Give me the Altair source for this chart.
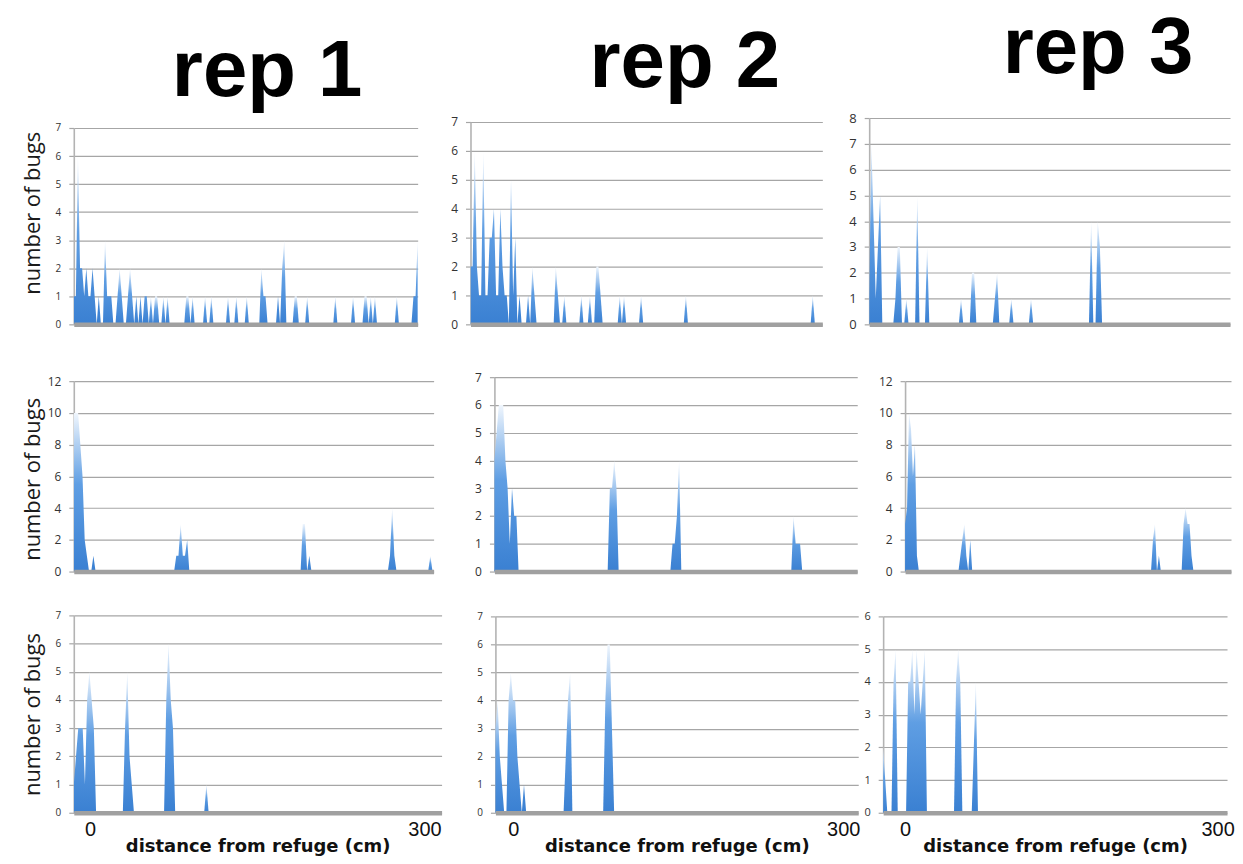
import altair as alt
import pandas as pd

# ---------------- data (distance in cm, number of bugs) ----------------
# each cluster: (first distance, counts at 2 cm steps)
R1C1 = [(-20, [1, 1, 6, 2, 2, 1, 2, 1, 1, 2, 1, 0, 1, 0]), (8, [0, 3, 1, 1, 1, 0]),
        (20, [0, 1, 2, 1, 0]), (30, [0, 1, 2, 1, 0, 1, 0, 1, 0, 1, 1, 0]), (52, [0, 1, 0]),
        (56, [0, 1, 1, 0]), (64, [0, 1, 0, 1, 0]), (86, [0, 1, 1, 0, 1, 0]), (104, [0, 1, 0]),
        (110, [0, 1, 0]), (126, [0, 1, 0]), (134, [0, 1, 0]), (144, [0, 1, 0]),
        (158, [0, 2, 1, 1, 0]), (174, [0, 1, 0, 2, 3, 0]), (190, [0, 1, 1, 0]), (202, [0, 1, 0]),
        (229, [0, 1, 0]), (246, [0, 1, 0]), (257, [0, 1, 1, 0, 1, 0, 1, 0]), (288, [0, 1, 0]),
        (304, [0, 1, 1, 3])]
R1C2 = [(-20, [2, 2, 6, 2, 1, 1, 6, 1, 1, 3, 3, 4, 1, 1, 4, 2, 1, 1, 0, 5, 1, 3, 0, 1, 0]),
        (32, [0, 1, 0, 2, 1, 0]), (58, [0, 2, 1, 0]), (66, [0, 1, 0]), (82, [0, 1, 0]),
        (90, [0, 1, 0]), (96, [0, 2, 2, 1, 0]), (118, [0, 1, 0, 1, 0]), (138, [0, 1, 0]),
        (180, [0, 1, 0]), (299, [0, 1, 0])]
R1C3 = [(-20, [1, 7, 4, 1, 3, 5, 0]), (2, [0, 1, 3, 3, 0]), (12, [0, 1, 0]), (22, [0, 5, 0]),
        (31, [0, 3, 0]), (62, [0, 1, 0]), (72, [0, 2, 2, 0]), (93, [0, 1, 2, 0]),
        (108, [0, 1, 0]), (126, [0, 1, 0]), (181, [0, 4, 0]), (187, [0, 4, 3, 0])]
R2C1 = [(-20, [10, 10, 10, 8, 6, 2, 1, 0, 0, 1, 0]), (72, [0, 1, 1, 3, 1, 1, 2, 0]),
        (188, [0, 3, 3, 0, 1, 0]), (268, [0, 1, 4, 1, 0]), (305, [0, 1, 0])]
R2C2 = [(-20, [4, 5, 6, 6, 6, 4, 3, 1, 3, 2, 2, 0]), (83, [0, 3, 3, 4, 3, 0]),
        (140, [0, 1, 1, 2, 4, 0]), (250, [0, 2, 1, 1, 1, 0])]
R2C3 = [(-20, [3, 4, 10, 9, 6, 8, 1, 0]), (34, [0, 1, 2, 3, 1, 0, 2, 0]),
        (229, [0, 2, 3, 0, 1, 0]), (260, [0, 3, 4, 3, 3, 1, 0])]
R3C1 = [(-20, [1, 2, 3, 3, 3, 1, 4, 5, 4, 3, 0]), (24, [0, 3, 5, 2, 1, 0]),
        (61, [0, 4, 6, 4, 3, 0]), (97, [0, 1, 0])]
R3C2 = [(-20, [3, 4, 2, 1, 0]), (-10, [0, 4, 5, 4, 4, 2, 1, 0, 1, 0]),
        (42, [0, 2, 4, 5, 0]), (78, [0, 4, 6, 6, 3, 0])]
R3C3 = [(-20, [2, 1, 0]), (-12, [0, 4, 5, 0]), (2, [0, 4, 4, 5, 3, 5, 4, 3, 4, 5, 0]),
        (48, [0, 4, 5, 4, 0]), (65, [0, 2, 4, 0])]

Y_MAX = [[7, 7, 8], [12, 7, 12], [7, 7, 6]]
Y_STEP = [[1, 1, 1], [2, 1, 2], [1, 1, 1]]
REP_TITLES = ["rep 1", "rep 2", "rep 3"]
X_TICKS = [0, 300]
X_TITLE = "distance from refuge (cm)"
Y_TITLE = "number of bugs"
X_DOMAIN = [-20, 310]

PANELS = [[R1C1, R1C2, R1C3], [R2C1, R2C2, R2C3], [R3C1, R3C2, R3C3]]

# ---------------- layout (one grid cell per panel, pixel ranges inside cells) ----------------
CELL_W = [398, 400, 363]
CELL_H = [207, 248, 242]
X_RANGE = [[(0, 345), (0, 353), (0, 362)],
           [(0, 361), (24, 388), (36, 363)],
           [(0, 369), (25, 389), (14, 359)]]
Y_TOP = [[10, 4, 0], [57, 53, 57], [44, 45, 45]]
LABEL_SIZE = [[10, 12, 13], [12, 12, 12], [10, 10, 11]]
X_LABEL_SHIFT = [-6, -4, 1]
TITLE_DX = [-5, 15, 48]
TITLE_OFFSET = [-58, -51, -41]
YTITLE_Y = [95, 155, 143]

FILL = alt.Gradient(
    gradient="linear",
    stops=[alt.GradientStop(color="#3a80d2", offset=0),
           alt.GradientStop(color="#5f9ee3", offset=0.55),
           alt.GradientStop(color="#f0f6fd", offset=1)],
    x1=0, x2=0, y1=1, y2=0)


def frame(clusters):
    rows = []
    for k, (start, vals) in enumerate(clusters):
        for i, v in enumerate(vals):
            rows.append({"x": start + 2 * i, "n": v, "g": k})
    return pd.DataFrame(rows)


def panel(r, c):
    df = frame(PANELS[r][c])
    w, h = CELL_W[c], CELL_H[r]
    x0, x1 = X_RANGE[r][c]
    top = Y_TOP[r][c]
    ymax, ystep = Y_MAX[r][c], Y_STEP[r][c]
    yk = dict(values=list(range(0, ymax + 1, ystep)), grid=True, gridColor="#a6a6a6",
              gridWidth=1.2, domainColor="#b3b3b3", domainWidth=1.6, tickColor="#a6a6a6",
              tickSize=5, tickWidth=1.2, labelFont="Open Sans", labelFontSize=LABEL_SIZE[r][c],
              labelColor="#333333", labelPadding=8, labelFlush=False, minExtent=22, maxExtent=22,
              zindex=0, offset=-x0)
    if c == 0:
        yk.update(title=Y_TITLE, titleFont="Open Sans", titleFontSize=22, titleFontWeight="normal",
                  titleColor="#1a1a1a", titleX=-29, titleY=YTITLE_Y[r], titleAngle=270,
                  titleBaseline="bottom", titleAlign="center")
    else:
        yk.update(title=None)
    xk = dict(ticks=False, grid=False, domainColor="#a0a0a0", domainWidth=4.5, zindex=1,
              labelFlush=False)
    if r == 2:
        xk.update(values=X_TICKS, labelFont="Liberation Sans", labelFontSize=20,
                  labelColor="#111111", labelPadding=7, labelOffset=X_LABEL_SHIFT[c],
                  title=X_TITLE, titleFont="DejaVu Sans",
                  titleFontSize=18, titleFontWeight="bold", titleColor="#111111", titleY=39,
                  titleX=(x0 + x1) / 2, titleBaseline="alphabetic")
    else:
        xk.update(labels=False, title=None)
    ch = alt.Chart(df).mark_area(color=FILL, interpolate="linear", clip=True).encode(
        x=alt.X("x:Q", scale=alt.Scale(domain=X_DOMAIN, nice=False, zero=False, range=[x0, x1]),
                axis=alt.Axis(**xk)),
        y=alt.Y("n:Q", stack=None, scale=alt.Scale(domain=[0, ymax], range=[h, top], nice=False),
                axis=alt.Axis(**yk)),
        detail="g:N",
    )
    props = dict(width=w, height=h)
    if r == 0:
        props["title"] = alt.TitleParams(text=REP_TITLES[c], font="Liberation Sans", fontSize=80,
                                         fontWeight="bold", color="#000000", anchor="middle",
                                         dx=TITLE_DX[c], offset=TITLE_OFFSET[c],
                                         baseline="alphabetic", frame="group")
    return ch.properties(**props)


panels = [panel(r, c) for r in range(3) for c in range(3)]
chart = alt.concat(*panels, columns=3, spacing=0, bounds="flush").properties(
    padding={"left": 13, "top": 0, "right": 0, "bottom": 0},
    background="#ffffff",
).configure_view(stroke=None)

chart.save("out.html", embed_options={"renderer": "svg", "actions": False})
